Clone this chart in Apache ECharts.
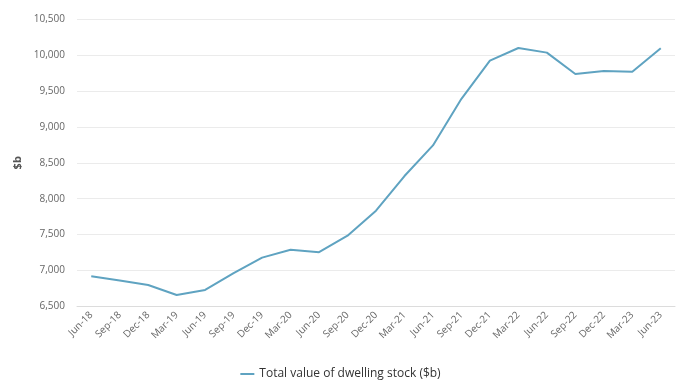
<!DOCTYPE html>
<html>
<head>
<meta charset="utf-8">
<script src="https://cdn.jsdelivr.net/npm/echarts@6/dist/echarts.min.js"></script>
<style>
	html, body { margin: 0; padding: 0; background: #fff; }
	#chart { width: 681px; height: 383px; }
</style>
</head>
<body>
<div id="chart"></div>
<script>
// quarters
var quarters = ['Jun-18', 'Sep-18', 'Dec-18', 'Mar-19', 'Jun-19', 'Sep-19', 'Dec-19', 'Mar-20', 'Jun-20',
	'Sep-20', 'Dec-20', 'Mar-21', 'Jun-21', 'Sep-21', 'Dec-21', 'Mar-22', 'Jun-22', 'Sep-22', 'Dec-22',
	'Mar-23', 'Jun-23'];

// Total value of dwelling stock ($b)
var dwellingStock = [6921, 6862, 6800, 6660, 6730, 6963, 7180, 7290, 7255,
	7486, 7833, 8315, 8741, 9390, 9921, 10097, 10032, 9735, 9777,
	9766, 10093];

var seriesName = 'Total value of dwelling stock ($b)';

var myChart = echarts.init(document.getElementById('chart'));

var font = '"Open Sans", "Noto Sans", sans-serif';

myChart.setOption({
	animation: false,
	textStyle: { fontFamily: font },
	grid: { left: 77, right: 6, top: 19, bottom: 76.5 },
	legend: {
		top: 368,
		left: 'center',
		padding: 0,
		icon: 'path://M0,0 L14,0 L14,2 L0,2 Z',
		itemWidth: 14,
		itemHeight: 2,
		itemGap: 10,
		textStyle: { fontSize: 12, color: '#333', fontFamily: font },
		data: [seriesName]
	},
	xAxis: {
		type: 'category',
		data: quarters,
		boundaryGap: true,
		axisLine: { lineStyle: { color: '#dcdcdc' } },
		axisTick: { show: false },
		axisLabel: {
			rotate: 45,
			interval: 0,
			fontSize: 10,
			color: '#666',
			margin: 7,
			fontFamily: font
		}
	},
	yAxis: {
		type: 'value',
		name: '$b',
		nameLocation: 'middle',
		nameGap: 52,
		nameRotate: 90,
		nameTextStyle: { fontSize: 11, color: '#555', fontWeight: 'bold', fontFamily: font },
		min: 6500,
		max: 10500,
		interval: 500,
		axisLine: { show: false },
		axisTick: { show: false },
		axisLabel: {
			fontSize: 10,
			color: '#666',
			margin: 12,
			fontFamily: font,
			formatter: function (v) {
				return v.toLocaleString('en-US');
			}
		},
		splitLine: { lineStyle: { color: '#ebebeb' } }
	},
	series: [{
		name: seriesName,
		type: 'line',
		data: dwellingStock,
		symbol: 'none',
		lineStyle: { width: 2, color: '#5fa3c1' },
		itemStyle: { color: '#5fa3c1' }
	}]
});
</script>
</body>
</html>
